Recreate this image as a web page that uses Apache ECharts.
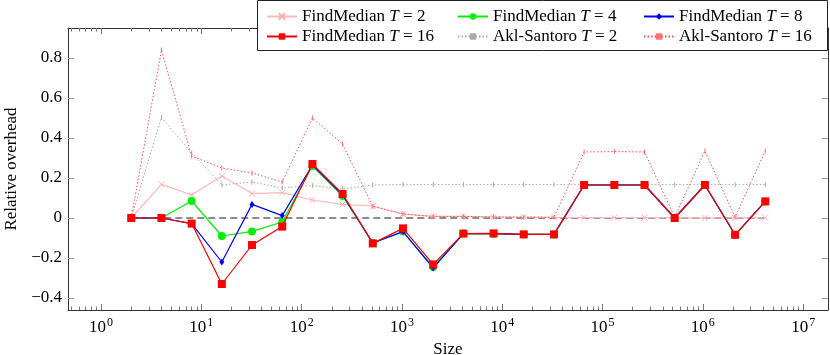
<!DOCTYPE html>
<html>
<head>
<meta charset="utf-8">
<script src="https://cdn.jsdelivr.net/npm/echarts@6/dist/echarts.min.js"></script>
<style>
  html, body { margin: 0; padding: 0; background: #fff; }
  #chart { width: 830px; height: 355px; }
</style>
</head>
<body>
<div id="chart"></div>
<script>
// sizes (x values), 2^1 .. 2^22
const sizes = [2, 4, 8, 16, 32, 64, 128, 256, 512, 1024, 2048, 4096, 8192, 16384,
  32768, 65536, 131072, 262144, 524288, 1048576, 2097152, 4194304];

// relative overhead per series
const fm2 = [0, 0.168, 0.115, 0.21, 0.122, 0.127, 0.09, 0.068, 0.06, 0.02, 0.008, 0.008,
  0.005, 0.005, 0.003, 0.002, 0.002, 0.002, 0.001, 0.001, 0.001, 0.001];
const fm4 = [0, 0, 0.085, -0.09, -0.067, -0.02, 0.26, 0.11, -0.125, -0.068, -0.245, -0.078,
  -0.08, -0.082, -0.082, 0.165, 0.165, 0.165, 0, 0.165, -0.084, 0.083];
const fm8 = [0, 0, -0.028, -0.22, 0.068, 0.012, 0.265, 0.115, -0.125, -0.068, -0.25, -0.078,
  -0.078, -0.082, -0.082, 0.165, 0.165, 0.165, 0, 0.165, -0.084, 0.083];
const fm16 = [0, 0, -0.028, -0.33, -0.135, -0.043, 0.27, 0.12, -0.127, -0.052, -0.232, -0.078,
  -0.077, -0.082, -0.082, 0.165, 0.165, 0.165, 0, 0.165, -0.084, 0.083];
const as2 = [0, 0.503, 0.325, 0.165, 0.18, 0.15, 0.163, 0.145, 0.165, 0.167, 0.167, 0.167,
  0.167, 0.167, 0.167, 0.167, 0.167, 0.167, 0.167, 0.167, 0.167, 0.167];
const as16 = [0, 0.84, 0.31, 0.25, 0.225, 0.18, 0.5, 0.37, 0.058, 0.02, 0.008, 0.008,
  0.005, 0.004, 0.004, 0.33, 0.332, 0.33, 0.005, 0.335, 0.005, 0.335];

// axis ticks
const xExponents = [0, 1, 2, 3, 4, 5, 6, 7];
const yTicks = [-0.4, -0.2, 0, 0.2, 0.4, 0.6, 0.8];

const FONT = '"Liberation Serif", "DejaVu Serif", serif';
const xMin = Math.log10(0.468);
const xMax = Math.log10(1.77e7);

// minor ticks at 2..9 x 10^d
const minorTicks = [];
for (let d = -1; d <= 7; d++) {
  for (let m = 2; m <= 9; m++) {
    const v = Math.log10(m * Math.pow(10, d));
    if (v > xMin && v < xMax) minorTicks.push(v);
  }
}

const toXY = ys => sizes.map((s, i) => [Math.log10(s), ys[i]]);

const chart = echarts.init(document.getElementById('chart'), null, { renderer: 'canvas' });

const frameLine = { show: true, onZero: false, lineStyle: { color: '#333', width: 1 } };
const hiddenLine = { show: false, onZero: false };

function xAxisDef(pos, major, withLabels) {
  return {
    type: 'value',
    position: pos,
    min: xMin,
    max: xMax,
    axisLine: major ? frameLine : hiddenLine,
    splitLine: { show: false },
    axisTick: {
      show: true,
      inside: true,
      length: major ? 6 : 3.5,
      customValues: major ? xExponents : minorTicks,
      lineStyle: { color: '#777', width: 1 }
    },
    axisLabel: withLabels ? {
      show: true,
      customValues: xExponents,
      margin: 7,
      formatter: v => '{b|10}{s|' + Math.round(v) + '}',
      rich: {
        b: { fontFamily: FONT, fontSize: 17, color: '#000' },
        s: { fontFamily: FONT, fontSize: 12, color: '#000', padding: [0, 0, 9, 1] }
      }
    } : { show: false },
    name: withLabels ? 'Size' : '',
    nameLocation: 'middle',
    nameGap: 28,
    nameTextStyle: { fontFamily: FONT, fontSize: 17, color: '#000' }
  };
}

function yAxisDef(pos, withLabels) {
  return {
    type: 'value',
    position: pos,
    min: -0.46,
    max: 0.95,
    axisLine: frameLine,
    splitLine: { show: false },
    axisTick: {
      show: true,
      inside: true,
      length: 6,
      customValues: yTicks,
      lineStyle: { color: '#999', width: 1 }
    },
    axisLabel: withLabels ? {
      show: true,
      customValues: yTicks,
      margin: 6,
      fontFamily: FONT,
      fontStyle: 'normal',
      fontSize: 17,
      color: '#000',
      formatter: v => (v < 0 ? '\u2212' + Math.abs(v) : String(v))
    } : { show: false },
    name: withLabels ? 'Relative overhead' : '',
    nameLocation: 'middle',
    nameGap: 48,
    nameTextStyle: { fontFamily: FONT, fontSize: 17, color: '#000' }
  };
}

const crossPath = 'path://M0,0L10,10M10,0L0,10';

const series = [
  {
    name: 'zero', type: 'line', data: toXY(sizes.map(() => 0)),
    symbol: 'none', silent: true, z: 1,
    lineStyle: { color: '#666', width: 1.5, type: [7, 4] }
  },
  {
    name: 'FindMedian T = 2', type: 'line', data: toXY(fm2), z: 2,
    symbol: crossPath, symbolSize: 6,
    lineStyle: { color: '#ffb8b8', width: 1.2 },
    itemStyle: { color: 'rgba(0,0,0,0)', borderColor: '#ffb0b0', borderWidth: 1 }
  },
  {
    name: 'FindMedian T = 4', type: 'line', data: toXY(fm4), z: 3,
    symbol: 'circle', symbolSize: 8,
    lineStyle: { color: '#00ee00', width: 1.2 },
    itemStyle: { color: '#00ee00' }
  },
  {
    name: 'FindMedian T = 8', type: 'line', data: toXY(fm8), z: 4,
    symbol: 'diamond', symbolSize: [5, 7],
    lineStyle: { color: '#0000ff', width: 1.2 },
    itemStyle: { color: '#0000ff' }
  },
  {
    name: 'FindMedian T = 16', type: 'line', data: toXY(fm16), z: 5,
    symbol: 'rect', symbolSize: 8,
    lineStyle: { color: '#f00000', width: 1.2 },
    itemStyle: { color: '#ff0000' }
  },
  {
    name: 'Akl-Santoro T = 2', type: 'line', data: toXY(as2), z: 2,
    symbol: 'rect', symbolSize: [1, 5],
    lineStyle: { color: '#aaaaaa', width: 1, type: [1.5, 2] },
    itemStyle: { color: '#aaaaaa' }
  },
  {
    name: 'Akl-Santoro T = 16', type: 'line', data: toXY(as16), z: 2,
    symbol: 'rect', symbolSize: [1, 5],
    lineStyle: { color: '#ff5050', width: 1, type: [1.5, 2] },
    itemStyle: { color: '#ff7070' }
  }
];

function legendCol(left, names) {
  return {
    orient: 'vertical',
    left: left,
    top: 3,
    itemWidth: 30,
    itemHeight: 8,
    itemGap: 3,
    z: 10,
    selectedMode: false,
    data: names,
    formatter: n => n.replace(' T ', ' {i|T} '),
    textStyle: {
      fontFamily: FONT, fontSize: 17, color: '#000',
      rich: { i: { fontFamily: FONT, fontSize: 17, fontStyle: 'italic', color: '#000' } }
    }
  };
}

const option = {
  animation: false,
  backgroundColor: '#fff',
  grid: { left: 68, right: 2, top: 28, bottom: 45, outerBoundsMode: 'none' },
  xAxis: [
    xAxisDef('bottom', true, true),
    xAxisDef('bottom', false, false),
    xAxisDef('top', true, false),
    xAxisDef('top', false, false)
  ],
  yAxis: [yAxisDef('left', true), yAxisDef('right', false)],
  legend: [
    legendCol(261, ['FindMedian T = 2', 'FindMedian T = 16']),
    legendCol(452, ['FindMedian T = 4', 'Akl-Santoro T = 2']),
    legendCol(638, ['FindMedian T = 8', 'Akl-Santoro T = 16'])
  ],
  graphic: [{
    type: 'rect', z: 9,
    shape: { x: 257.5, y: 0.5, width: 570, height: 50 },
    style: { fill: '#fff', stroke: '#222', lineWidth: 1 }
  }],
  series: series
};

chart.setOption(option);
</script>
</body>
</html>
